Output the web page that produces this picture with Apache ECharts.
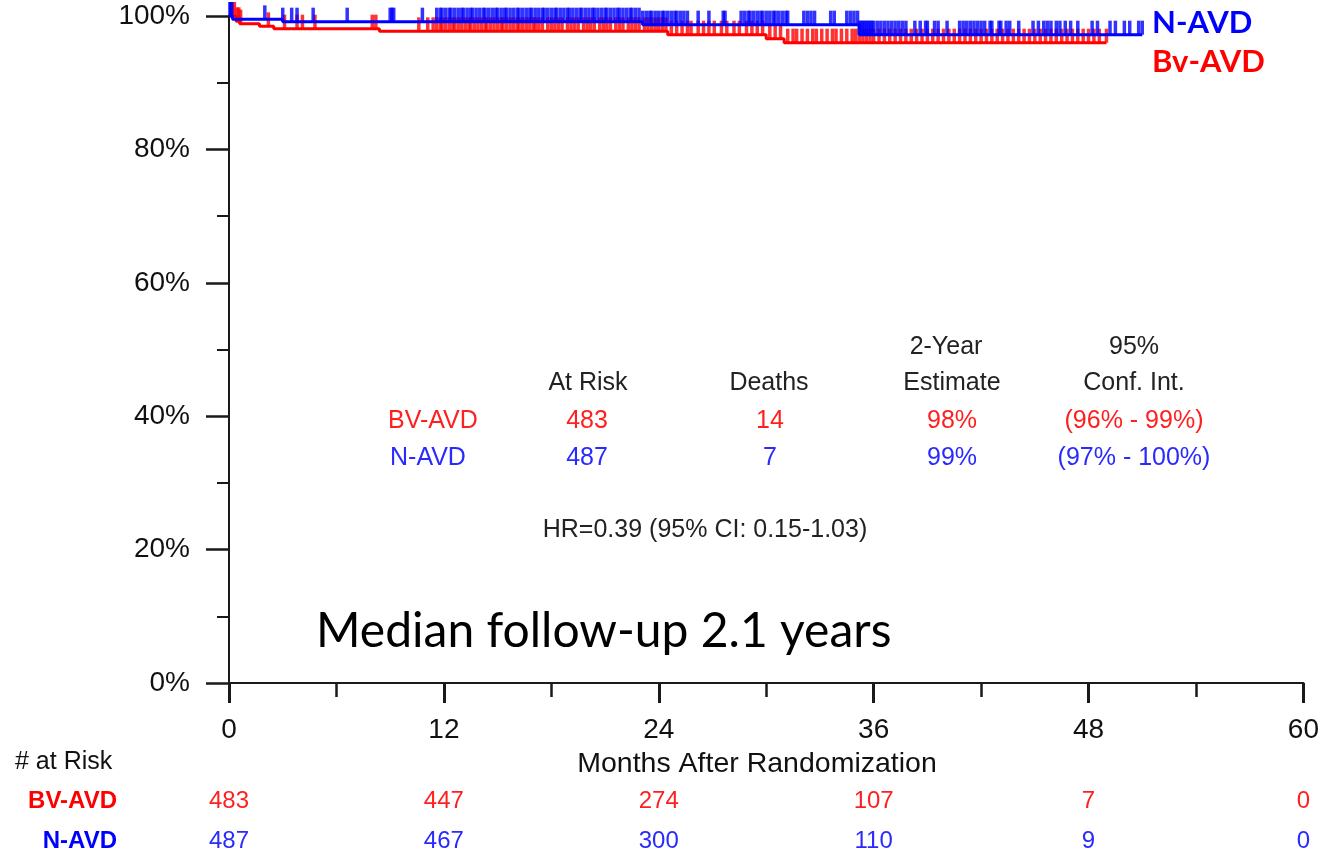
<!DOCTYPE html>
<html>
<head>
<meta charset="utf-8">
<script src="https://cdn.jsdelivr.net/npm/echarts@6/dist/echarts.min.js"></script>
<style>
html,body{margin:0;padding:0;background:#fff;}
#chart{width:1322px;height:853px;}
</style>
</head>
<body>
<div id="chart"></div>
<script>
// ---------- data ----------
const tickMonths = [0, 12, 24, 36, 48, 60];
const bvAtRisk = [483, 447, 274, 107, 7, 0];
const nAtRisk = [487, 467, 300, 110, 9, 0];

// Kaplan-Meier step points (months, % surviving)
const bvStepTimes = [0, 0.4, 0.6, 1.7, 2.5, 8.4, 24.5, 30.0, 31.0];
const bvStepSurv  = [100, 99.2, 98.85, 98.45, 98.1, 97.7, 97.2, 96.6, 96.0];
const bvLastTime = 49.0;

const nStepTimes = [0, 0.2, 3.0, 23.1, 35.2];
const nStepSurv  = [100, 99.5, 99.15, 98.7, 97.2];
const nLastTime = 51.0;

// censoring times (months)
const bvCensor = [0.1, 0.2, 0.3, 0.45, 0.55, 0.65, 2.2, 3.1, 3.8, 4.1, 4.8, 8.0, 8.2, 10.6, 11.1,
  11.4, 11.6, 11.8, 11.9, 12.1, 12.3, 12.5, 12.6, 12.8, 13.0, 13.2, 13.4, 13.5, 13.7, 13.9, 14.1, 14.3, 14.4, 14.6, 14.8,
  15.0, 15.2, 15.3, 15.5, 15.7, 15.9, 16.1, 16.2, 16.4, 16.6, 16.8, 17.0, 17.1, 17.3, 17.5, 17.8, 18.0, 18.2, 18.4, 18.6,
  18.9, 19.1, 19.3, 19.5, 19.8, 20.0, 20.2, 20.4, 20.7, 20.9, 21.1, 21.3, 21.6, 21.8, 22.0, 22.3, 22.5, 22.7, 22.9, 23.2,
  23.4, 23.6, 23.8, 24.0, 24.2, 24.4, 24.7, 25.0, 25.3, 25.6, 25.8, 26.2, 26.5, 26.8, 27.1, 27.5, 27.8, 28.2, 28.5, 28.9,
  29.2, 29.5, 29.8, 30.2, 30.5, 30.8, 31.2, 31.5, 31.7, 32.0, 32.3, 32.6, 32.8, 33.1, 33.4, 33.7, 33.9, 34.2, 34.5, 34.8,
  35.0, 35.2, 35.4, 35.6, 35.8, 36.0, 36.3, 36.6, 36.9, 37.2, 37.5, 37.8, 38.1, 38.4, 38.7, 39.0, 39.3, 39.6, 39.9, 40.2,
  40.5, 40.8, 41.1, 41.4, 41.7, 42.0, 42.3, 42.6, 42.9, 43.2, 43.5, 43.8, 44.1, 44.4, 44.7, 45.0, 45.3, 45.6, 45.9, 46.2,
  46.5, 46.8, 47.1, 47.4, 47.7, 48.0, 48.3, 48.6, 49.0];

const nCensor = [0.05, 0.1, 0.15, 2.0, 3.0, 3.5, 3.8, 4.7, 6.6, 9.0, 9.1, 9.2, 10.8,
  11.6, 11.8, 11.9, 12.1, 12.3, 12.4, 12.6, 12.8, 13.0, 13.1, 13.3, 13.5, 13.6, 13.8, 14.0, 14.2, 14.3, 14.5, 14.7, 14.9,
  15.0, 15.2, 15.4, 15.5, 15.7, 15.9, 16.1, 16.2, 16.4, 16.6, 16.8, 16.9, 17.1, 17.3, 17.5, 17.6, 17.8, 18.0, 18.2, 18.3,
  18.5, 18.7, 18.9, 19.0, 19.2, 19.4, 19.6, 19.7, 19.9, 20.1, 20.3, 20.4, 20.6, 20.8, 21.0, 21.1, 21.3, 21.5, 21.7, 21.8,
  22.0, 22.2, 22.4, 22.5, 22.7, 22.9, 23.1, 23.3, 23.5, 23.6, 23.8, 24.0, 24.2, 24.3, 24.5, 24.7, 24.9, 25.0, 25.2, 25.4,
  25.6, 26.2, 26.8, 27.6, 27.7, 28.6, 28.8, 29.0, 29.1, 29.3, 29.5, 29.7, 29.8, 30.0, 30.2, 30.4, 30.5, 30.7, 30.9, 31.1,
  31.2, 32.1, 32.3, 32.5, 32.7, 33.6, 33.8, 34.5, 34.7, 34.9, 35.1,
  35.2, 35.3, 35.4, 35.5, 35.6, 35.7, 35.8, 35.9, 36.0, 36.2, 36.4, 36.6, 36.8, 37.0, 37.2, 37.4, 37.6, 37.8, 38.3, 38.6,
  38.9, 39.0, 39.4, 39.6, 40.1, 40.8, 41.0, 41.2, 41.4, 41.6, 41.8, 42.0, 42.2, 42.5, 42.6, 43.0, 43.1, 43.4, 43.6, 44.1,
  44.9, 45.2, 45.5, 45.7, 45.9, 46.2, 46.4, 46.7, 47.0, 47.4, 48.2, 48.5, 49.2, 49.5, 50.0, 50.3, 50.8, 51.0];

// ---------- helpers ----------
function stepData(times, surv, last) {
  const d = times.map((t, i) => [t, surv[i]]);
  d.push([last, surv[surv.length - 1]]);
  return d;
}
function survAt(times, surv, t) {
  let s = surv[0];
  for (let i = 0; i < times.length; i++) { if (times[i] <= t) s = surv[i]; }
  return s;
}
function censorData(cens, times, surv) {
  return cens.map(t => [t, survAt(times, surv, t)]);
}

const RED = '#ff0000', BLUE = '#0000ff';
const RED_T = '#ff1f1f', BLUE_T = '#2a2aff';
const AX = '#1a1a1a';
const F = '"Liberation Sans", Arial, sans-serif';

const chart = echarts.init(document.getElementById('chart'), null, {renderer: 'canvas'});

const riskAxis = (vals, color, offset) => ({
  type: 'value', min: 0, max: 60, interval: 12, position: 'bottom', offset: offset,
  axisLine: {show: false}, axisTick: {show: false}, splitLine: {show: false},
  axisLabel: {margin: 8, color: color, fontSize: 24, fontFamily: F,
    formatter: v => { const i = tickMonths.indexOf(v); return i >= 0 ? String(vals[i]) : ''; }}
});

const txt = (x, y, text, opts) => ({
  type: 'text', x: x, y: y, silent: true,
  style: Object.assign({text: text, fontFamily: F, fontSize: 25, fill: '#222', textVerticalAlign: 'middle', verticalAlign: 'middle'}, opts)
});

const option = {
  animation: false,
  backgroundColor: '#fff',
  grid: {left: 229, right: 16, top: 16, bottom: 170, containLabel: false},
  xAxis: [
    {
      type: 'value', min: 0, max: 60, interval: 12,
      axisLine: {show: true, onZero: false, lineStyle: {color: AX, width: 2}},
      axisTick: {show: true, length: 20, lineStyle: {color: AX, width: 3}},
      minorTick: {show: true, splitNumber: 2, length: 14, lineStyle: {color: AX, width: 2.5}},
      splitLine: {show: false},
      axisLabel: {margin: 33, color: '#111', fontSize: 28, fontFamily: F}
    },
    riskAxis(bvAtRisk, RED_T, 98),
    riskAxis(nAtRisk, BLUE_T, 138)
  ],
  yAxis: {
    type: 'value', min: 0, max: 100, interval: 20,
    axisLine: {show: true, lineStyle: {color: AX, width: 2}},
    axisTick: {show: true, length: 23, lineStyle: {color: AX, width: 2.5}},
    minorTick: {show: true, splitNumber: 2, length: 12, lineStyle: {color: AX, width: 2}},
    splitLine: {show: false},
    axisLabel: {margin: 39, color: '#111', fontSize: 28, fontFamily: F, formatter: '{value}%'}
  },
  series: [
    {
      name: 'BV-AVD', type: 'line', step: 'end', showSymbol: false, symbol: 'none',
      data: stepData(bvStepTimes, bvStepSurv, bvLastTime),
      lineStyle: {color: RED, width: 3}, z: 2
    },
    {
      name: 'BV-AVD censored', type: 'scatter', symbol: 'rect', symbolSize: [3.5, 14], symbolOffset: [0, -7],
      data: censorData(bvCensor, bvStepTimes, bvStepSurv),
      itemStyle: {color: RED}, z: 2
    },
    {
      name: 'N-AVD', type: 'line', step: 'end', showSymbol: false, symbol: 'none',
      data: stepData(nStepTimes, nStepSurv, nLastTime),
      lineStyle: {color: BLUE, width: 3}, z: 3
    },
    {
      name: 'N-AVD censored', type: 'scatter', symbol: 'rect', symbolSize: [3.5, 14], symbolOffset: [0, -7],
      data: censorData(nCensor, nStepTimes, nStepSurv),
      itemStyle: {color: BLUE}, z: 3
    }
  ],
  graphic: [
    // legend at top right
    txt(1152, 23, 'N-AVD', {fill: BLUE, fontFamily: 'Lato, "Open Sans", sans-serif', fontWeight: 'bold', fontSize: 31}),
    txt(1152, 62, 'Bv-AVD', {fill: RED, fontFamily: 'Lato, "Open Sans", sans-serif', fontWeight: 'bold', fontSize: 31}),
    // inner stats table headers
    txt(946, 347, '2-Year', {textAlign: 'center', align: 'center'}),
    txt(1134, 347, '95%', {textAlign: 'center', align: 'center'}),
    txt(588, 383, 'At Risk', {textAlign: 'center', align: 'center'}),
    txt(769, 383, 'Deaths', {textAlign: 'center', align: 'center'}),
    txt(952, 383, 'Estimate', {textAlign: 'center', align: 'center'}),
    txt(1134, 383, 'Conf. Int.', {textAlign: 'center', align: 'center'}),
    // rows
    txt(388, 421, 'BV-AVD', {fill: RED_T}),
    txt(587, 421, '483', {fill: RED_T, textAlign: 'center', align: 'center'}),
    txt(770, 421, '14', {fill: RED_T, textAlign: 'center', align: 'center'}),
    txt(952, 421, '98%', {fill: RED_T, textAlign: 'center', align: 'center'}),
    txt(1134, 421, '(96% - 99%)', {fill: RED_T, textAlign: 'center', align: 'center'}),
    txt(390, 458, 'N-AVD', {fill: BLUE_T}),
    txt(587, 458, '487', {fill: BLUE_T, textAlign: 'center', align: 'center'}),
    txt(770, 458, '7', {fill: BLUE_T, textAlign: 'center', align: 'center'}),
    txt(952, 458, '99%', {fill: BLUE_T, textAlign: 'center', align: 'center'}),
    txt(1134, 458, '(97% - 100%)', {fill: BLUE_T, textAlign: 'center', align: 'center'}),
    txt(705, 530, 'HR=0.39 (95% CI: 0.15-1.03)', {textAlign: 'center', align: 'center'}),
    // median follow-up
    txt(316, 632, 'Median follow-up 2.1 years', {fill: '#000', fontFamily: 'Lato, "Open Sans", sans-serif', fontSize: 48}),
    // axis title and risk table labels
    txt(757, 764, 'Months After Randomization', {fill: '#111', fontSize: 28.5, textAlign: 'center', align: 'center'}),
    txt(15, 762, '# at Risk', {fill: '#111', fontSize: 25}),
    txt(117, 801, 'BV-AVD', {fill: RED, fontWeight: 'bold', fontSize: 24, textAlign: 'right', align: 'right'}),
    txt(117, 841, 'N-AVD', {fill: BLUE, fontWeight: 'bold', fontSize: 24, textAlign: 'right', align: 'right'})
  ]
};
chart.setOption(option);
</script>
</body>
</html>
